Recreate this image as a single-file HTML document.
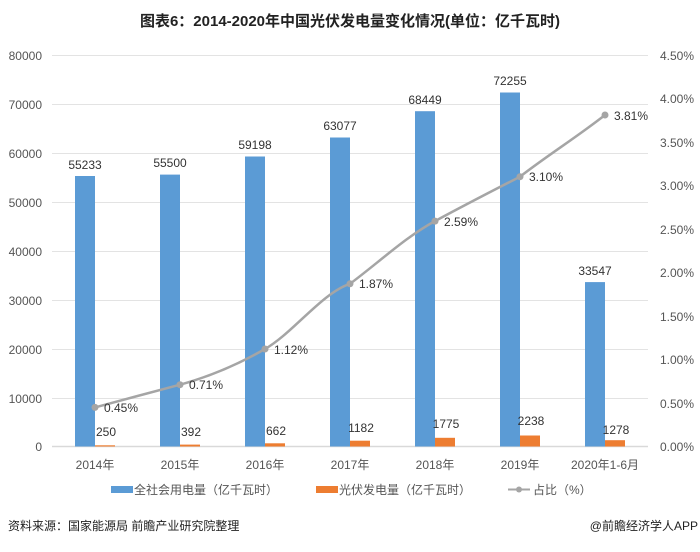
<!DOCTYPE html>
<html><head><meta charset="utf-8"><style>
body{margin:0;background:#fff}
svg text{font-family:"Liberation Sans","Noto Sans CJK SC",sans-serif}
</style></head><body>
<svg width="700" height="547" viewBox="0 0 700 547" xmlns="http://www.w3.org/2000/svg">
<text x="350" y="26" text-anchor="middle" font-size="15" font-weight="bold" fill="#222">图表6：2014-2020年中国光伏发电量变化情况(单位：亿千瓦时)</text>
<g stroke="#e3e3e3" stroke-width="1">
<line x1="52" x2="648" y1="55.5" y2="55.5"/><line x1="52" x2="648" y1="104.5" y2="104.5"/>
<line x1="52" x2="648" y1="153.5" y2="153.5"/><line x1="52" x2="648" y1="202.5" y2="202.5"/>
<line x1="52" x2="648" y1="251.5" y2="251.5"/><line x1="52" x2="648" y1="300.5" y2="300.5"/>
<line x1="52" x2="648" y1="349.5" y2="349.5"/><line x1="52" x2="648" y1="398.5" y2="398.5"/>
</g>
<line x1="52" x2="648" y1="446.5" y2="446.5" stroke="#d9d9d9" stroke-width="1.5"/>
<g font-size="12" fill="#555" text-anchor="end">
<text x="42" y="60">80000</text><text x="42" y="109">70000</text><text x="42" y="158">60000</text>
<text x="42" y="207">50000</text><text x="42" y="256">40000</text><text x="42" y="305">30000</text>
<text x="42" y="354">20000</text><text x="42" y="403">10000</text><text x="42" y="451">0</text>
</g>
<g font-size="12" fill="#555" text-anchor="end">
<text x="694" y="60">4.50%</text><text x="694" y="103">4.00%</text><text x="694" y="147">3.50%</text>
<text x="694" y="190">3.00%</text><text x="694" y="234">2.50%</text><text x="694" y="277">2.00%</text>
<text x="694" y="321">1.50%</text><text x="694" y="364">1.00%</text><text x="694" y="408">0.50%</text>
<text x="694" y="451">0.00%</text>
</g>
<g fill="#5b9bd5">
<rect x="75" y="176" width="20" height="270.5"/>
<rect x="160" y="174.6" width="20" height="271.9"/>
<rect x="245" y="156.5" width="20" height="290"/>
<rect x="330" y="137.5" width="20" height="309"/>
<rect x="415" y="111.2" width="20" height="335.3"/>
<rect x="500" y="92.5" width="20" height="354"/>
<rect x="585" y="282.1" width="20" height="164.4"/>
</g>
<g fill="#ed7d31">
<rect x="95" y="445.3" width="20" height="1.2"/>
<rect x="180" y="444.6" width="20" height="1.9"/>
<rect x="265" y="443.3" width="20" height="3.2"/>
<rect x="350" y="440.7" width="20" height="5.8"/>
<rect x="435" y="437.8" width="20" height="8.7"/>
<rect x="520" y="435.5" width="20" height="11"/>
<rect x="605" y="440.2" width="20" height="6.3"/>
</g>
<g font-size="12" fill="#333" text-anchor="middle">
<text x="85" y="169">55233</text><text x="170" y="167">55500</text><text x="255" y="149">59198</text>
<text x="340" y="130">63077</text><text x="425" y="104">68449</text><text x="510" y="85">72255</text>
<text x="595" y="275">33547</text>
<text x="106" y="436">250</text><text x="191" y="436">392</text><text x="276" y="435">662</text>
<text x="361" y="432">1182</text><text x="446" y="428">1775</text><text x="531" y="425">2238</text>
<text x="616" y="434">1278</text>
</g>
<path d="M95,407.4 C123,400 152,392 180,384.7 C208,377 237,365 265,349 C293,333 322,293 350,283.8 C378,263 407,236 435,221.1 C463,206 492,191 520,176.7 C548,155 577,137 605,115" fill="none" stroke="#a5a5a5" stroke-width="2.5"/>
<g fill="#a5a5a5">
<circle cx="95" cy="407.4" r="3.5"/><circle cx="180" cy="384.7" r="3.5"/><circle cx="265" cy="349" r="3.5"/>
<circle cx="350" cy="283.8" r="3.5"/><circle cx="435" cy="221.1" r="3.5"/><circle cx="520" cy="176.7" r="3.5"/>
<circle cx="605" cy="115" r="3.5"/>
</g>
<g font-size="12" fill="#333">
<text x="104" y="412">0.45%</text><text x="189" y="389">0.71%</text><text x="274" y="354">1.12%</text>
<text x="359" y="288">1.87%</text><text x="444" y="226">2.59%</text><text x="529" y="181">3.10%</text>
<text x="614" y="120">3.81%</text>
</g>
<g font-size="12" fill="#555" text-anchor="middle">
<text x="95" y="469">2014年</text><text x="180" y="469">2015年</text><text x="265" y="469">2016年</text>
<text x="350" y="469">2017年</text><text x="435" y="469">2018年</text><text x="520" y="469">2019年</text>
<text x="605" y="469">2020年1-6月</text>
</g>
<rect x="111" y="486" width="22" height="7" fill="#5b9bd5"/>
<text x="134" y="494" font-size="12" fill="#555">全社会用电量（亿千瓦时）</text>
<rect x="316" y="486" width="22" height="7" fill="#ed7d31"/>
<text x="339" y="494" font-size="12" fill="#555">光伏发电量（亿千瓦时）</text>
<line x1="508" x2="530" y1="489.5" y2="489.5" stroke="#a5a5a5" stroke-width="2"/>
<circle cx="519" cy="489.5" r="3" fill="#a5a5a5"/>
<text x="533" y="494" font-size="12" fill="#555">占比（%）</text>
<text x="8" y="530" font-size="12" fill="#222">资料来源：国家能源局 前瞻产业研究院整理</text>
<text x="698" y="530" font-size="12" fill="#222" text-anchor="end">@前瞻经济学人APP</text>
</svg>
</body></html>
